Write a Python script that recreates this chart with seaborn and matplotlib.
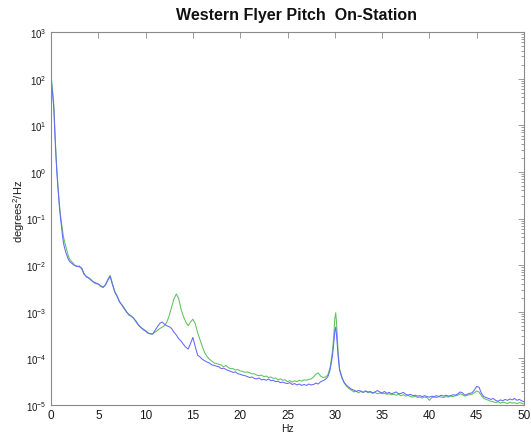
import numpy as np
import pandas as pd
import matplotlib
matplotlib.use("Agg")
import matplotlib.pyplot as plt
from matplotlib.ticker import LogLocator, LogFormatterSciNotation, NullFormatter
import seaborn as sns

# Frequency grid (Hz): 0.1 Hz near DC, 0.25 Hz elsewhere, extra points on the 30 Hz line
hz = np.concatenate([
    np.arange(0, 21) * 0.1,
    np.arange(9, 120) * 0.25,
    [29.9, 30.0, 30.1, 30.2, 30.35],
    np.arange(122, 201) * 0.25,
])

# Pitch PSD, log10(degrees^2/Hz)
blue_log_psd = [
    2.03, 1.80, 1.60, 1.35, 0.85, 0.42, 0.06, -0.25, -0.52, -0.78, -0.98,
    -1.15, -1.35, -1.50, -1.60, -1.68, -1.75, -1.80, -1.86, -1.90, -1.93,
    -1.97, -2.01, -2.03,
    -2.02, -2.08, -2.20, -2.24,
    -2.28, -2.33, -2.36, -2.38,
    -2.41, -2.44, -2.48, -2.42,
    -2.33, -2.24, -2.42, -2.58,
    -2.68, -2.78, -2.86, -2.94,
    -3.01, -3.06, -3.10, -3.14,
    -3.22, -3.29, -3.34, -3.37,
    -3.42, -3.46, -3.47, -3.48,
    -3.40, -3.32, -3.25, -3.22,
    -3.27, -3.30, -3.32, -3.36,
    -3.44, -3.50, -3.58, -3.63,
    -3.70, -3.76, -3.80, -3.68,
    -3.55, -3.75, -3.93, -3.97,
    -4.02, -4.05, -4.08, -4.10,
    -4.14, -4.15, -4.17, -4.18,
    -4.22, -4.21, -4.24, -4.26,
    -4.28, -4.30, -4.29, -4.33,
    -4.34, -4.36, -4.37, -4.39,
    -4.41, -4.40, -4.43, -4.44,
    -4.42, -4.46, -4.45, -4.47,
    -4.44, -4.48, -4.47, -4.50,
    -4.49, -4.52, -4.51, -4.53,
    -4.54, -4.52, -4.56, -4.54,
    -4.57, -4.55, -4.58, -4.56,
    -4.58, -4.55, -4.57, -4.56,
    -4.53, -4.55, -4.50, -4.48,
    -4.45, -4.40, -4.25, -3.95,
    -3.65, -3.42, -3.33, -3.55, -3.95,
    -4.25, -4.42,
    -4.52, -4.58, -4.62, -4.66,
    -4.68, -4.71, -4.69, -4.70,
    -4.73, -4.70, -4.72, -4.71,
    -4.74, -4.72, -4.69, -4.72,
    -4.74, -4.71, -4.75, -4.73,
    -4.76, -4.74, -4.72, -4.76,
    -4.75, -4.73, -4.77, -4.79,
    -4.77, -4.80, -4.79, -4.81,
    -4.80, -4.82, -4.80, -4.82,
    -4.83, -4.81, -4.82, -4.80,
    -4.82, -4.79, -4.81, -4.79,
    -4.81, -4.80, -4.78, -4.79,
    -4.76, -4.72, -4.74, -4.79,
    -4.77, -4.75, -4.74, -4.68,
    -4.60, -4.62, -4.75, -4.82,
    -4.84, -4.86, -4.88, -4.86,
    -4.90, -4.92, -4.89, -4.91,
    -4.88, -4.90, -4.87, -4.89,
    -4.86, -4.90, -4.88, -4.91,
    -4.93,
]

green_log_psd = [
    2.10, 1.90, 1.68, 1.42, 0.95, 0.50, 0.10, -0.20, -0.48, -0.72, -0.92,
    -1.08, -1.22, -1.37, -1.47, -1.55, -1.62, -1.70, -1.78, -1.84, -1.88,
    -1.94, -2.00, -2.02,
    -2.04, -2.06, -2.18, -2.26,
    -2.27, -2.31, -2.37, -2.40,
    -2.40, -2.46, -2.47, -2.43,
    -2.31, -2.22, -2.40, -2.57,
    -2.66, -2.80, -2.85, -2.92,
    -3.00, -3.08, -3.09, -3.15,
    -3.20, -3.28, -3.33, -3.39,
    -3.40, -3.45, -3.48, -3.47,
    -3.44, -3.40, -3.36, -3.33,
    -3.30, -3.22, -3.08, -2.90,
    -2.72, -2.62, -2.72, -2.95,
    -3.10, -3.22, -3.30, -3.22,
    -3.16, -3.26, -3.45, -3.60,
    -3.75, -3.88, -3.96, -4.02,
    -4.06, -4.10, -4.11, -4.13,
    -4.14, -4.18, -4.15, -4.20,
    -4.22, -4.22, -4.25, -4.24,
    -4.27, -4.28, -4.30, -4.29,
    -4.31, -4.33, -4.33, -4.36,
    -4.37, -4.36, -4.39, -4.38,
    -4.41, -4.40, -4.43, -4.42,
    -4.46, -4.44, -4.47, -4.46,
    -4.50, -4.48, -4.51, -4.48,
    -4.50, -4.47, -4.49, -4.46,
    -4.47, -4.45, -4.44, -4.40,
    -4.34, -4.31, -4.38, -4.41,
    -4.40, -4.36, -4.20, -3.85,
    -3.50, -3.15, -3.02, -3.30, -3.85,
    -4.22, -4.40,
    -4.53, -4.60, -4.65, -4.68,
    -4.72, -4.70, -4.74, -4.71,
    -4.73, -4.70, -4.74, -4.72,
    -4.75, -4.73, -4.76, -4.74,
    -4.76, -4.75, -4.77, -4.76,
    -4.78, -4.77, -4.79, -4.77,
    -4.80, -4.78, -4.81, -4.79,
    -4.82, -4.83, -4.81, -4.84,
    -4.83, -4.85, -4.83, -4.84,
    -4.90, -4.84, -4.83, -4.84,
    -4.82, -4.83, -4.84, -4.82,
    -4.83, -4.81, -4.82, -4.80,
    -4.79, -4.76, -4.78, -4.81,
    -4.79, -4.78, -4.77, -4.74,
    -4.70, -4.72, -4.80, -4.86,
    -4.88, -4.90, -4.92, -4.93,
    -4.95, -4.93, -4.96, -4.94,
    -4.95, -4.97, -4.94, -4.96,
    -4.95, -4.97, -4.95, -4.96,
    -4.98,
]

title = "Western Flyer Pitch  On-Station"
x_ticks = [0, 5, 10, 15, 20, 25, 30, 35, 40, 45, 50]

df = pd.concat([
    pd.DataFrame({"Hz": hz, "psd": np.power(10.0, np.array(green_log_psd)), "run": "green"}),
    pd.DataFrame({"Hz": hz, "psd": np.power(10.0, np.array(blue_log_psd)), "run": "blue"}),
], ignore_index=True)

sns.set_theme(style="white")
plt.rcParams["font.family"] = ["Liberation Sans", "DejaVu Sans"]
plt.rcParams["mathtext.default"] = "regular"
plt.rcParams["axes.unicode_minus"] = False

fig = plt.figure(figsize=(5.31, 4.35), dpi=100)
ax = fig.add_axes([51 / 531, 29 / 435, 473 / 531, 373 / 435])

sns.lineplot(data=df, x="Hz", y="psd", hue="run", hue_order=["green", "blue"],
             palette={"green": "#5cc45c", "blue": "#6666ff"},
             estimator=None, sort=False, legend=False, linewidth=0.75, ax=ax)

ax.set_yscale("log")
ax.set_xlim(0, 50)
ax.set_ylim(1e-5, 1e3)
ax.set_xticks(x_ticks)
ax.set_xticklabels([str(t) for t in x_ticks])
ax.yaxis.set_major_locator(LogLocator(base=10, numticks=20))
ax.yaxis.set_major_formatter(LogFormatterSciNotation())
ax.yaxis.set_minor_locator(LogLocator(base=10, subs=np.arange(2, 10), numticks=20))
ax.yaxis.set_minor_formatter(NullFormatter())

ax.set_xlabel("")
ax.set_ylabel("")
for s in ax.spines.values():
    s.set_color("#8a8a8a")
    s.set_linewidth(0.8)
ax.tick_params(which="both", direction="in", top=True, right=True,
               color="#8a8a8a", labelcolor="#1a1a1a", width=0.6)
ax.tick_params(which="major", length=4)
ax.tick_params(which="minor", length=2)
ax.tick_params(axis="x", labelsize=8.5, pad=3)
ax.tick_params(axis="y", labelsize=7, pad=3)

fig.text(297 / 531, 1 - 20 / 435, title, ha="center", va="baseline",
         fontsize=11.5, fontweight="bold", color="#111111")
fig.text(287 / 531, 1 - 432 / 435, "Hz", ha="center", va="baseline",
         fontsize=7.5, color="#1a1a1a")
fig.text(19 / 531, 1 - 211 / 435, r"degrees$^{2}$/Hz", ha="center", va="center",
         rotation=90, fontsize=8, color="#1a1a1a")

fig.savefig("out.png", dpi=100, facecolor="white")
